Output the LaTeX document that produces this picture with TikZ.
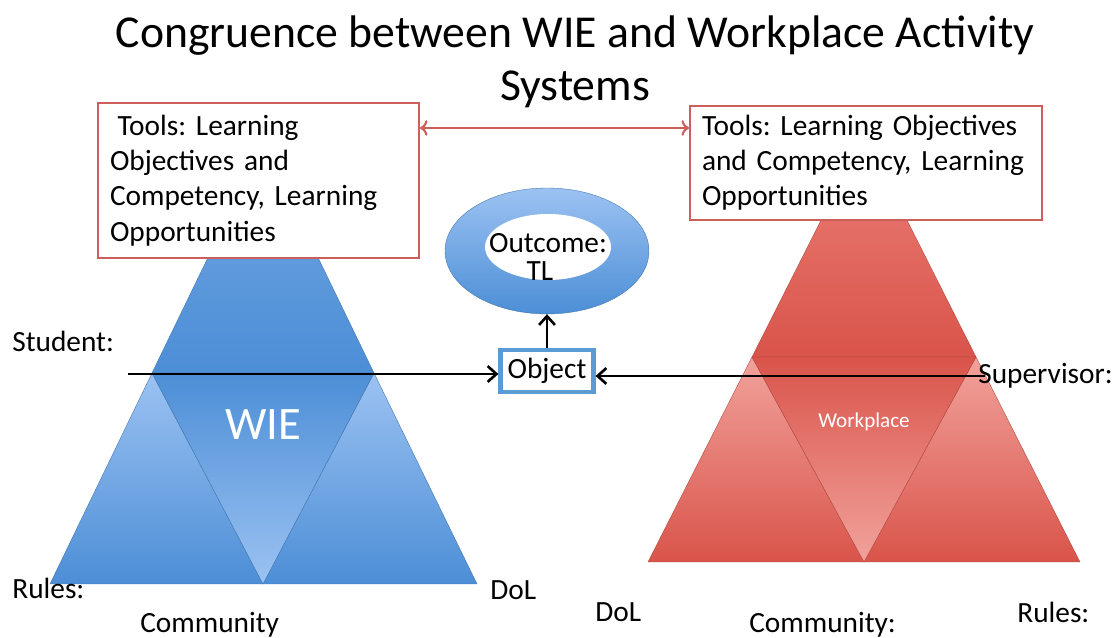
\documentclass[tikz,border=0pt]{standalone}
\usepackage{fontspec}
\setmainfont{Carlito}
\frenchspacing
\usetikzlibrary{shapes.geometric,arrows.meta}
\definecolor{boxred}{RGB}{205,95,90}
\definecolor{bdark}{RGB}{76,142,214}
\definecolor{bmid}{RGB}{114,166,226}
\definecolor{blight}{RGB}{156,194,242}
\definecolor{rdark}{RGB}{217,84,74}
\definecolor{rmid}{RGB}{235,128,121}
\definecolor{rlight}{RGB}{241,162,156}
\definecolor{objblue}{RGB}{91,155,213}

\begin{document}
\begin{tikzpicture}[x=0.02cm,y=-0.02cm,
	tools/.style={draw=boxred,line width=1.2pt,fill=white,align=left,inner xsep=0.24cm,font=\fontsize{16.7}{20}\selectfont},
	lbl/.style={anchor=west,inner sep=0pt,font=\fontsize{16.7}{20}\selectfont},
	conn/.style={-{Straight Barb[length=5pt,width=9pt]},line width=1.5pt},
	inside/.style={text=white,inner sep=0pt}]
\useasboundingbox (0,0) rectangle (1117,638);

% blue system
\shade[top color=bmid,bottom color=bdark,draw=bdark!80!black,very thin] (263,144) -- (374,373) -- (152,373) -- cycle;
\shade[top color=blight,bottom color=bdark,draw=bdark!80!black,very thin] (152,373) -- (263,584) -- (50,584) -- cycle;
\shade[top color=blight,bottom color=bdark,draw=bdark!80!black,very thin] (374,373) -- (477,584) -- (263,584) -- cycle;
\shade[top color=bdark,bottom color=blight,draw=bdark!80!black,very thin] (152,373) -- (374,373) -- (263,584) -- cycle;
\node[inside,font=\fontsize{26.5}{30}\selectfont] (wie) at (263,425) {WIE};

% red system
\shade[top color=rmid,bottom color=rdark,draw=rdark!80!black,very thin] (864,135) -- (976,357) -- (752,357) -- cycle;
\shade[top color=rlight,bottom color=rdark,draw=rdark!80!black,very thin] (752,357) -- (864,562) -- (648,562) -- cycle;
\shade[top color=rlight,bottom color=rdark,draw=rdark!80!black,very thin] (976,357) -- (1080,562) -- (864,562) -- cycle;
\shade[top color=rdark,bottom color=rlight,draw=rdark!80!black,very thin] (752,357) -- (976,357) -- (864,562) -- cycle;
\node[inside,font=\fontsize{12}{14}\selectfont] (work) at (864,422) {Workplace};

\node[align=center,font=\fontsize{26}{30}\selectfont] (title) at (575,62) {Congruence between WIE and Workplace Activity\\Systems};

\node[tools,text width=5.94cm,minimum height=3.10cm] (toolsL) at (258.5,180.5)
	{\hspace{0.15cm}Tools: Learning\\Objectives and\\Competency, Learning\\Opportunities};
\node[tools,text width=6.56cm,minimum height=2.28cm] (toolsR) at (866,163)
	{Tools: Learning Objectives\\and Competency, Learning\\Opportunities};
\coordinate (tl) at (0,128);
\draw[<->,boxred,line width=1.2pt] (toolsL.east |- tl) -- (toolsR.west |- tl);

% outcome and object
\node[ellipse,minimum width=4.08cm,minimum height=2.52cm,top color=blight,bottom color=bdark,draw=bdark!80!black,very thin] (outcome) at (547,251) {};
\node[ellipse,minimum width=2.52cm,minimum height=1.32cm,fill=white] (hole) at (548,247) {};
\node[inner sep=0pt,font=\fontsize{16.7}{20}\selectfont] (otxt) at (548,243) {Outcome:};
\node[inner sep=0pt,font=\fontsize{16.7}{20}\selectfont] (tltxt) at (540,271) {TL};
\node[draw=objblue,line width=2.4pt,fill=white,minimum width=1.86cm,minimum height=0.84cm,inner sep=0pt,font=\fontsize{16.7}{20}\selectfont] (obj) at (547,371) {Object};

\coordinate (stu) at (128,374);
\coordinate (sup) at (985,376);
\draw[conn] (stu) -- (obj.west |- stu);
\draw[conn] (sup) -- (obj.east |- sup);
\draw[conn] (obj.north) -- (outcome.south);

% labels
\node[lbl] (student) at (12,341) {Student:};
\node[lbl] (supervisor) at (978,376) {Supervisor:};
\foreach \txt/\x/\y/\nm in {Rules:/12/588/rulesL,DoL/490/590/dolL,Community/140/625/commL,DoL/595/612/dolR,Community:/749/625/commR,Rules:/1017/612/rulesR}
	\node[lbl] (\nm) at (\x,\y) {\txt};
\end{tikzpicture}
\end{document}
